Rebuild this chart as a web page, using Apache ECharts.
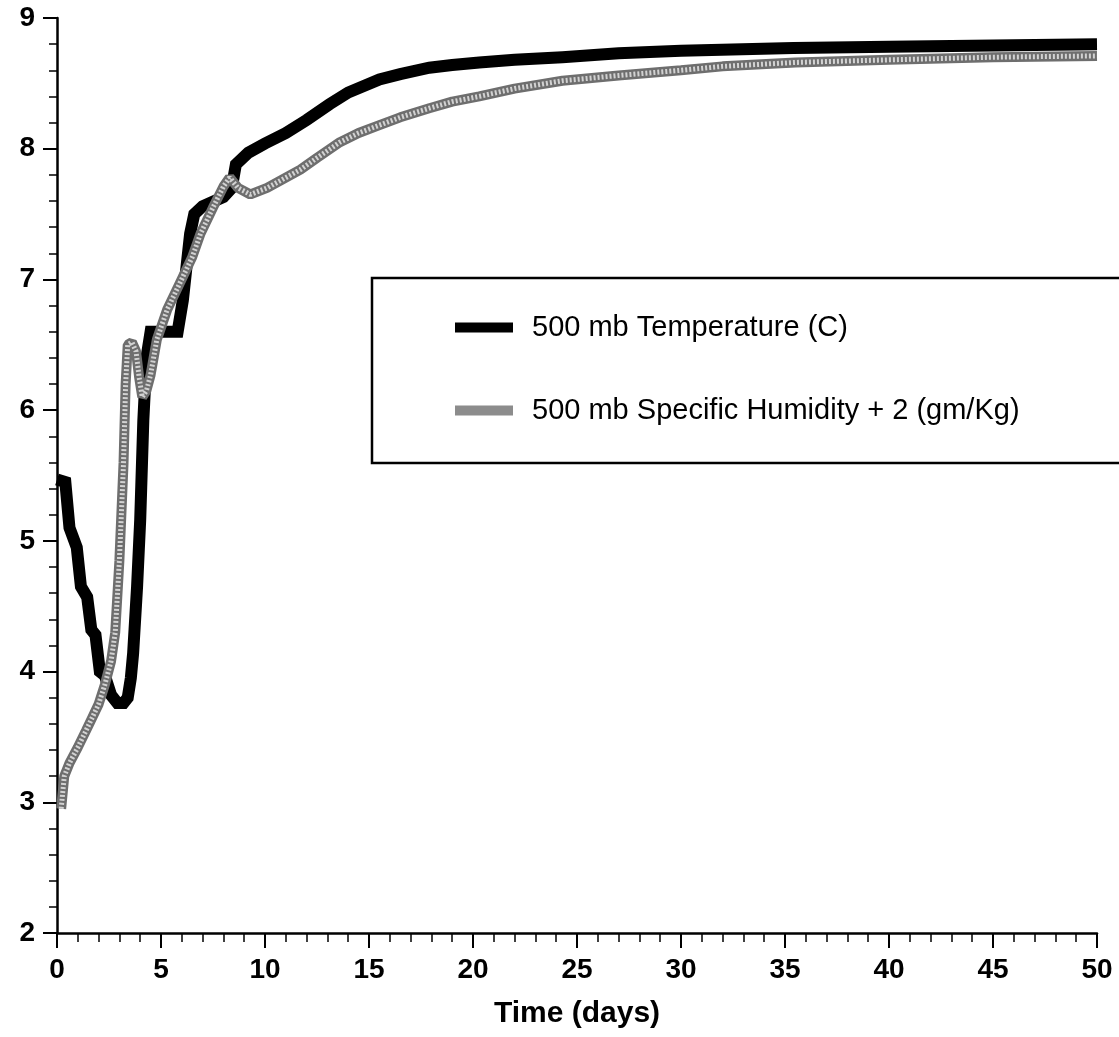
<!DOCTYPE html>
<html><head><meta charset="utf-8">
<script src="https://cdn.jsdelivr.net/npm/echarts@6/dist/echarts.min.js"></script>
<style>html,body{margin:0;padding:0;background:#fff}#c{width:1119px;height:1037px}</style>
</head><body><div id="c"></div>
<script>
// ---- data ----
const tempName = '500 mb Temperature (C)';
const humName = '500 mb Specific Humidity + 2 (gm/Kg)';
const tempDays = [0,0.4,0.6,0.95,1.15,1.45,1.65,1.85,2.06,2.3,2.6,2.9,3.2,3.4,3.55,3.66,3.85,4.0,4.15,4.3,4.5,5.0,5.8,6.05,6.4,6.6,7.0,8.0,8.4,8.6,9.2,10,11,12,13.1,14,15.5,16.5,17.9,19,20.3,22,24.3,27,30,35.4,40,45,50];
const tempVals = [5.47,5.45,5.1,4.95,4.65,4.57,4.32,4.28,4.0,3.97,3.82,3.76,3.76,3.8,3.95,4.14,4.65,5.16,5.92,6.4,6.6,6.6,6.6,6.84,7.35,7.5,7.56,7.63,7.7,7.88,7.97,8.04,8.12,8.22,8.34,8.43,8.53,8.57,8.62,8.64,8.66,8.68,8.70,8.73,8.75,8.77,8.78,8.79,8.8];
const humDays = [0.2,0.35,0.6,1.0,1.4,1.7,2.0,2.3,2.6,2.8,3.0,3.2,3.3,3.4,3.6,3.8,3.95,4.1,4.3,4.5,4.8,5.3,5.9,6.5,6.9,7.5,8.0,8.3,8.7,9.3,10.1,11.7,12.5,13.6,14.5,15.5,16.5,17.9,19,20.3,22,24.3,27,30,32,35.5,40,45,50];
const humVals = [2.95,3.2,3.3,3.42,3.55,3.65,3.75,3.9,4.08,4.3,4.85,5.6,6.2,6.5,6.52,6.45,6.25,6.1,6.15,6.27,6.54,6.77,6.97,7.17,7.35,7.55,7.71,7.78,7.7,7.65,7.7,7.84,7.93,8.05,8.12,8.18,8.24,8.31,8.36,8.40,8.46,8.52,8.56,8.6,8.63,8.66,8.68,8.70,8.71];
const xMin = 0, xMax = 50, xStep = 5;
const yMin = 2, yMax = 9, yStep = 1;
const xTitle = 'Time (days)';

const chart = echarts.init(document.getElementById('c'), null, {renderer: 'canvas'});
const lab = {color:'#000', fontFamily:'Liberation Sans, Arial, sans-serif', fontWeight:'bold', fontSize:28};
const humPts = humDays.map((d,i) => [d, humVals[i]]);
chart.setOption({
  backgroundColor: '#fff',
  animation: false,
  grid: {left: 57, right: 22, top: 18, bottom: 104, containLabel: false},
  xAxis: {
    type: 'value', min: xMin, max: xMax, interval: xStep,
    name: xTitle, nameLocation: 'middle', nameGap: 66,
    nameTextStyle: {color:'#000', fontFamily:'Liberation Sans, Arial', fontWeight:'bold', fontSize:30},
    axisLine: {show: true, onZero: false, lineStyle: {color:'#000', width: 2.5}},
    axisTick: {show: true, inside: false, length: 15, lineStyle: {color:'#000', width: 2}},
    minorTick: {show: true, splitNumber: 5, length: 9, lineStyle: {color:'#000', width: 1.5}},
    axisLabel: Object.assign({margin: 23}, lab),
    splitLine: {show: false}
  },
  yAxis: {
    type: 'value', min: yMin, max: yMax, interval: yStep,
    axisLine: {show: true, onZero: false, lineStyle: {color:'#000', width: 2.5}},
    axisTick: {show: true, inside: false, length: 14, lineStyle: {color:'#000', width: 2}},
    minorTick: {show: true, splitNumber: 5, length: 8, lineStyle: {color:'#000', width: 1.5}},
    axisLabel: Object.assign({margin: 22}, lab),
    splitLine: {show: false}
  },
  graphic: [{
    type: 'rect', z: 0, silent: true,
    shape: {x: 372, y: 278, width: 800, height: 185},
    style: {fill: '#fff', stroke: '#000', lineWidth: 2.5}
  }],
  legend: {
    orient: 'vertical', left: 450, top: 308, itemGap: 54,
    itemWidth: 58, itemHeight: 10, selectedMode: false,
    textStyle: {color:'#000', fontFamily:'Liberation Sans, Arial, sans-serif', fontSize: 29, padding: [0,0,0,14]},
    data: [
      {name: tempName, icon: 'rect', itemStyle: {color: '#000'}},
      {name: humName, icon: 'rect', itemStyle: {color: '#8c8c8c'}}
    ]
  },
  series: [
    {
      name: tempName, type: 'line', showSymbol: false, symbol: 'none',
      data: tempDays.map((d,i) => [d, tempVals[i]]),
      itemStyle: {color: '#000'},
      lineStyle: {color: '#000', width: 12, join: 'miter'}
    },
    {
      name: humName, type: 'line', showSymbol: false, symbol: 'none',
      data: humPts,
      itemStyle: {color: '#8c8c8c'},
      lineStyle: {color: '#6e6e6e', width: 10}
    },
    {
      name: 'hum-texture', type: 'line', showSymbol: false, symbol: 'none',
      data: humPts, silent: true,
      itemStyle: {color: '#cfcfcf'},
      lineStyle: {color: '#d2d2d2', width: 5, type: [2, 2]}
    }
  ]
});
</script></body></html>
